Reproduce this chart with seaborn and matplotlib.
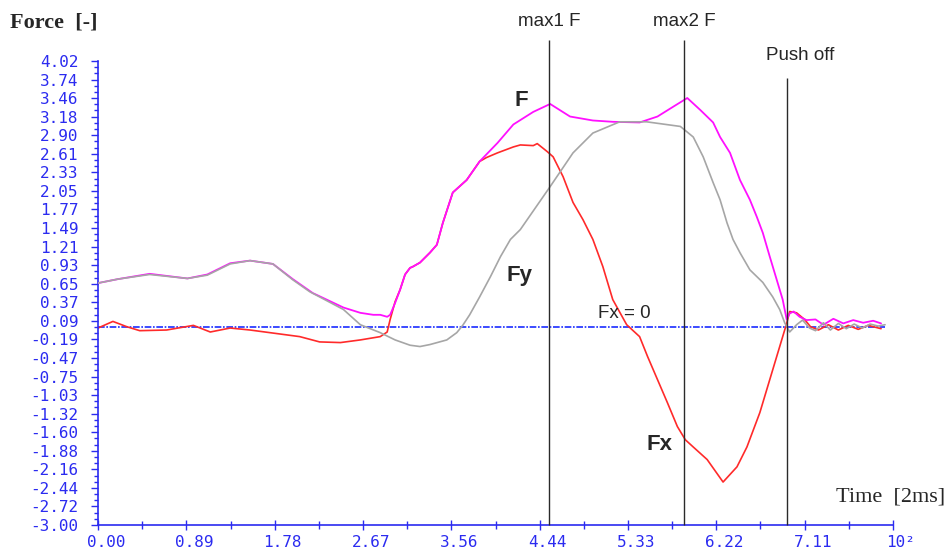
import matplotlib
matplotlib.use("Agg")
import numpy as np
import pandas as pd
import seaborn as sns
import matplotlib.pyplot as plt
from matplotlib.transforms import ScaledTranslation

# ---------------- data ----------------
t_fy = [0.00, 0.20, 0.52, 0.90, 1.10, 1.33, 1.53, 1.76, 1.96, 2.13, 2.47, 2.64, 2.84,
        2.99, 3.14, 3.24, 3.34, 3.51, 3.61, 3.67, 3.74, 3.84, 3.95, 4.05, 4.15, 4.25,
        4.55, 4.78, 4.98, 5.25, 5.52, 5.86, 5.99, 6.09, 6.19, 6.26, 6.33, 6.39, 6.46,
        6.56, 6.69, 6.79, 6.86, 6.91, 6.96, 7.03, 7.09, 7.16, 7.22, 7.30, 7.37, 7.45,
        7.53, 7.61, 7.69, 7.77, 7.85, 7.92]
fy = [0.66, 0.72, 0.79, 0.73, 0.78, 0.95, 1.00, 0.95, 0.71, 0.53, 0.26, 0.03, -0.09,
      -0.20, -0.28, -0.30, -0.27, -0.20, -0.09, 0.02, 0.18, 0.45, 0.76, 1.06, 1.32, 1.47,
      2.12, 2.63, 2.93, 3.10, 3.10, 3.03, 2.87, 2.57, 2.18, 1.92, 1.57, 1.32, 1.12,
      0.86, 0.67, 0.45, 0.26, 0.06, -0.08, 0.03, 0.10, -0.02, -0.06, 0.06, -0.05, 0.05,
      -0.03, 0.04, -0.02, 0.04, 0.01, 0.03]

t_fx = [0.00, 0.15, 0.29, 0.42, 0.69, 0.96, 1.13, 1.33, 1.53, 1.73, 2.03, 2.23, 2.44,
        2.64, 2.84, 2.91, 2.94, 2.99, 3.04, 3.09, 3.14, 3.17, 3.24, 3.34, 3.41, 3.47,
        3.57, 3.71, 3.84, 3.91, 4.02, 4.18, 4.25, 4.38, 4.42, 4.52, 4.58, 4.68, 4.78,
        4.88, 4.98, 5.08, 5.18, 5.32, 5.45, 5.53, 5.63, 5.73, 5.83, 5.91, 5.99, 6.13,
        6.29, 6.43, 6.53, 6.66, 6.76, 6.83, 6.89, 6.93, 6.96, 7.03, 7.11, 7.17, 7.25,
        7.35, 7.45, 7.55, 7.65, 7.75, 7.88]
fx = [-0.02, 0.08, 0.00, -0.06, -0.05, 0.02, -0.08, -0.02, -0.05, -0.09, -0.15, -0.23, -0.24,
      -0.20, -0.15, -0.08, 0.11, 0.38, 0.56, 0.79, 0.89, 0.91, 0.97, 1.12, 1.24, 1.57,
      2.03, 2.22, 2.50, 2.56, 2.63, 2.72, 2.75, 2.74, 2.77, 2.65, 2.57, 2.27, 1.88,
      1.62, 1.32, 0.91, 0.41, 0.03, -0.15, -0.45, -0.80, -1.15, -1.51, -1.71, -1.82, -2.01,
      -2.35, -2.12, -1.82, -1.30, -0.80, -0.45, -0.15, 0.05, 0.23, 0.21, 0.11, 0.00, -0.05,
      0.03, -0.05, 0.02, -0.04, 0.02, -0.03]

t_f = [0.00, 0.20, 0.52, 0.90, 1.10, 1.33, 1.53, 1.76, 1.96, 2.16, 2.47, 2.64, 2.77,
       2.84, 2.91, 2.94, 2.99, 3.04, 3.09, 3.14, 3.17, 3.24, 3.34, 3.41, 3.47, 3.57,
       3.71, 3.84, 4.02, 4.18, 4.38, 4.55, 4.75, 4.98, 5.18, 5.45, 5.63, 5.79, 5.93,
       6.06, 6.19, 6.26, 6.36, 6.46, 6.56, 6.63, 6.69, 6.76, 6.83, 6.89, 6.93, 6.96,
       7.00, 7.06, 7.13, 7.22, 7.30, 7.40, 7.50, 7.60, 7.70, 7.80, 7.88]
f = [0.66, 0.72, 0.80, 0.73, 0.79, 0.96, 1.00, 0.95, 0.72, 0.51, 0.29, 0.21, 0.18,
     0.18, 0.15, 0.18, 0.36, 0.56, 0.79, 0.89, 0.91, 0.97, 1.12, 1.24, 1.57, 2.03,
     2.22, 2.50, 2.78, 3.06, 3.25, 3.37, 3.18, 3.12, 3.10, 3.09, 3.18, 3.33, 3.46,
     3.28, 3.09, 2.87, 2.63, 2.22, 1.92, 1.66, 1.42, 1.06, 0.71, 0.41, 0.11, 0.20,
     0.23, 0.15, 0.10, 0.11, 0.03, 0.12, 0.05, 0.10, 0.06, 0.09, 0.05]

event_times = [4.54, 5.90, 6.93]
event_names = ["max1 F", "max2 F", "Push off"]

ytick_labels = ["-3.00", "-2.72", "-2.44", "-2.16", "-1.88", "-1.60", "-1.32", "-1.03",
                "-0.75", "-0.47", "-0.19", "0.09", "0.37", "0.65", "0.93", "1.21", "1.49",
                "1.77", "2.05", "2.33", "2.61", "2.90", "3.18", "3.46", "3.74", "4.02"]
xtick_labels = ["0.00", "0.89", "1.78", "2.67", "3.56", "4.44", "5.33", "6.22", "7.11", "10²"]

# ---------------- figure ----------------
sns.set_theme(style="white")
plt.rcParams['font.family'] = ['DejaVu Sans']

W, H = 949, 551
fig = plt.figure(figsize=(W / 100, H / 100), dpi=100)
fig.patch.set_facecolor("white")
ax = fig.add_axes([98 / W, 26 / H, 795 / W, 464 / H])
ax.set_facecolor("white")

df_fy = pd.DataFrame({"t": t_fy, "v": fy})
df_fx = pd.DataFrame({"t": t_fx, "v": fx})
df_f = pd.DataFrame({"t": t_f, "v": f})

# zero reference line
ax.hlines(0, 0, 7.92, colors="#1a2cff", lw=1.2, linestyles=(0, (4, 1, 1, 1)), zorder=1)

sns.lineplot(data=df_fx, x="t", y="v", ax=ax, color="#ff2a2a", lw=1.2,
             estimator=None, sort=False, zorder=2)
sns.lineplot(data=df_f, x="t", y="v", ax=ax, color="#ff10ff", lw=1.3,
             estimator=None, sort=False, zorder=3)
sns.lineplot(data=df_fy, x="t", y="v", ax=ax, color="#a6a6a6", lw=1.2,
             estimator=None, sort=False, zorder=4)

# event vertical lines
tops = [4.34, 4.34, 3.77]
ax.vlines(event_times, -3.0, tops, colors="#2a2a2a", lw=1.0, clip_on=False, zorder=5)

ax.set_xlim(0, 8.0)
ax.set_ylim(-3.0, 4.02)
ax.set_xlabel("")
ax.set_ylabel("")

yt = np.linspace(-3.0, 4.02, len(ytick_labels))
ax.set_yticks(yt)
ax.set_yticklabels(ytick_labels)
ax.set_yticks(np.linspace(-3.0, 4.02, (len(ytick_labels) - 1) * 3 + 1), minor=True)

xt = np.linspace(0, 8.0, len(xtick_labels))
ax.set_xticks(xt)
ax.set_xticklabels(xtick_labels)
ax.set_xticks(np.linspace(0, 8.0, (len(xtick_labels) - 1) * 2 + 1), minor=True)

blue = "#2b2bf0"
ax.tick_params(axis="y", which="major", direction="out", length=5, width=1, color=blue,
               pad=9, labelcolor=blue, labelsize=11.5, left=True)
ax.tick_params(axis="y", which="minor", direction="out", length=3, width=1, color=blue, left=True)
ax.tick_params(axis="x", which="major", direction="inout", length=7, width=1, color=blue,
               pad=4, labelcolor=blue, labelsize=11.5, bottom=True)
ax.tick_params(axis="x", which="minor", direction="inout", length=6, width=1, color=blue, bottom=True)
for lab in ax.get_yticklabels() + ax.get_xticklabels():
    lab.set_family("DejaVu Sans Mono")
for lab in ax.get_xticklabels():
    lab.set_transform(lab.get_transform() + ScaledTranslation(8 / 100, 0, fig.dpi_scale_trans))

for s in ["top", "right"]:
    ax.spines[s].set_visible(False)
ax.spines["left"].set_color(blue)
ax.spines["left"].set_linestyle((0, (1, 1)))
ax.spines["left"].set_linewidth(1.2)
ax.spines["bottom"].set_color(blue)
ax.spines["bottom"].set_linestyle((0, (3, 1)))
ax.spines["bottom"].set_linewidth(1.2)

def ftext(px, py, s, **kw):
    fig.text(px / W, 1 - py / H, s, **kw)

ftext(10, 22, "Force  [-]", ha="left", va="center", family="Liberation Serif",
      fontweight="bold", fontsize=16)
ftext(945, 497, "Time  [2ms]", ha="right", va="center", family="Liberation Serif",
      fontsize=16)
event_label_pos = [(549, 22), (684, 22), (800, 55)]
for name, (px, py) in zip(event_names, event_label_pos):
    ftext(px, py, name, ha="center", va="center", family="Liberation Sans", fontsize=13.5)

ftext(521, 100, "F", ha="center", va="center", family="Liberation Sans",
      fontweight="bold", fontsize=16)
ftext(520, 275, "Fy", ha="center", va="center", family="Liberation Sans",
      fontweight="bold", fontsize=16)
ftext(660, 445, "Fx", ha="center", va="center", family="Liberation Sans",
      fontweight="bold", fontsize=16)
ftext(624, 314, "Fx = 0", ha="center", va="center", family="Liberation Sans",
      fontsize=13.5)

fig.savefig("out.png", dpi=100)
